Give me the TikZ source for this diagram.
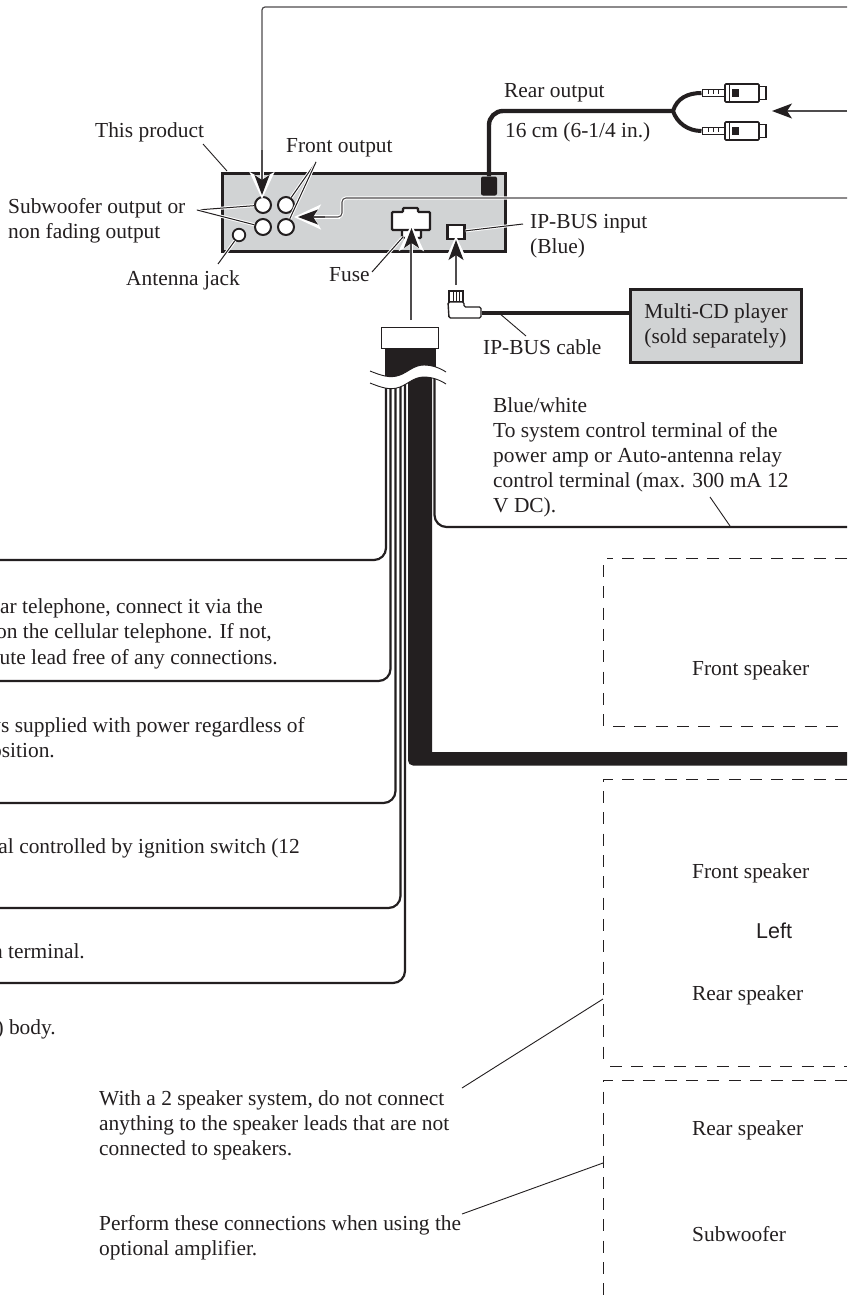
\documentclass[tikz,border=0pt]{standalone}
\usepackage{fontspec}
\usepackage{tikz}
\usetikzlibrary{arrows.meta}
\setmainfont{Liberation Serif}
\newfontfamily\leftfont{Liberation Sans}
\definecolor{ink}{HTML}{231F20}
\definecolor{panel}{HTML}{D1D3D4}
\newcommand{\wavecurve}[1]{(370,{371+#1}) .. controls (380,{375+#1}) and (390,{379+#1}) .. (400,{375+#1}) .. controls (408,{372+#1}) and (414,{365+#1}) .. (424,{365+#1}) .. controls (432,{365+#1}) and (440,{368+#1}) .. (446,{372+#1})}

\begin{document}
\begin{tikzpicture}[x=1pt,y=-1pt,
            txtleft/.style={inner sep=0pt,anchor=base west,align=left,text=ink,font=\fontsize{21.4}{25}\selectfont},
            txtright/.style={inner sep=0pt,anchor=base east,text=ink,font=\fontsize{21.4}{25}\selectfont}]
            \tikzset{jack/.style = {shape=circle,draw=ink,fill=white,line width=2pt,inner sep=0pt,minimum size=16pt}}
            \tikzset{socket/.style = {draw=ink,fill=white,line width=2.2pt}}
            \tikzset{wire/.style = {draw=ink,line width=2.2pt,rounded corners=12pt}}
            \tikzset{shaft/.style = {draw=ink!80,line width=1.2pt}}
            \tikzset{pointer/.style = {shaft,-{Stealth[length=20pt,width=15pt,inset=5pt,color=ink]}}}
            \tikzset{halo/.style = {draw=white,line width=3.2pt,shorten >=-4pt,-{Stealth[length=27pt,width=25pt,inset=7pt]}}}
            \tikzset{leader/.style = {draw=ink,line width=1pt,preaction={draw=white,line width=3pt}}}
            \tikzset{thinlead/.style = {draw=ink,line width=.9pt}}
            \tikzset{dashbox/.style = {draw=ink,line width=.9pt,dash pattern=on 12pt off 9.3pt}}
            \tikzset{rcabody/.style = {draw=ink,fill=white,line width=1.6pt,rounded corners=1pt,minimum width=34pt,minimum height=18pt,inner sep=0pt}}
            \tikzset{rcatip/.style = {draw=ink,fill=white,line width=1.3pt,minimum width=8pt,minimum height=13pt,inner sep=0pt}}
            \tikzset{rcatail/.style = {draw=ink,fill=white,line width=1pt,minimum width=22pt,minimum height=7pt,inner sep=0pt}}

            \useasboundingbox (0,0) rectangle (847,1303);
            \clip (0,0) rectangle (847,1303);
            \fill[white] (0,0) rectangle (847,1303);

            \node[draw=ink,fill=panel,line width=3pt,minimum width=283pt,minimum height=78pt,inner sep=0pt] (product) at (364,212.5) {};
            \node[fill=ink,rounded corners=2pt,minimum width=16pt,minimum height=19pt,inner sep=0pt] (rearjack) at (489,186) {};
            \node[jack] (subA) at (263,205) {};
            \node[jack] (subB) at (263,227) {};
            \node[jack] (frontA) at (286,205) {};
            \node[jack] (frontB) at (286,227) {};
            \node[jack,minimum size=12.5pt,line width=1.8pt] (antenna) at (239,235) {};
            \node[socket,minimum width=17pt,minimum height=14pt,inner sep=0pt] (ipbus) at (456,232) {};
            \draw[socket,rounded corners=1pt] (402,229) -- (402,238) -- (421,238) -- (421,229);
            \draw[socket,rounded corners=1pt] (403,212) -- (403,208) -- (418,208) -- (418,212) -- (430,212) -- (430,230) -- (392,230) -- (392,212) -- cycle;
            \coordinate (fuseport) at (411.5,228);
            \coordinate (ipbusport) at (456,240);

            \node[draw=ink,fill=panel,line width=3pt,minimum width=171pt,minimum height=73pt,inner sep=0pt,txtleft,anchor=center] (changer) at (716,326) {Multi-CD player\\(sold separately)};

            \coordinate (topturn) at (262,7);
            \coordinate (topend) at (847,7);
            \coordinate (subport) at (262,195);
            \draw[halo] (262,100) -- (subport);
            \draw[shaft,rounded corners=3pt] (topend) -- (topturn) -- (262,175);
            \draw[pointer] (262,150) -- (subport);

            \coordinate (frontport) at (298,217);
            \coordinate (frontend) at (847,198);
            \draw[draw=white,line width=3.2pt,rounded corners=4pt] (frontend) -| (342,217) -- (330,217);
            \draw[halo] (340,217) -- (frontport);
            \draw[shaft,line width=1.1pt,rounded corners=4pt] (frontend) -| (342,217) -- (320,217);
            \draw[pointer] (325,217) -- (frontport);

            \coordinate (rearturn) at (488,111);
            \coordinate (rearfork) at (673,111);
            \coordinate (rearend) at (847,111);
            \coordinate (rearport) at (772,111);
            \draw[draw=ink,line width=4.4pt,rounded corners=14pt] (rearjack) |- (rearfork);
            \draw[pointer] (rearend) -- (rearport);

            \foreach \y/\n in {93/A,131/B} {
                \node[rcatail] (tail\n) at (713,\y) {};
                \foreach \x in {708,713,718} {\draw[draw=ink,line width=.7pt] (\x,\y-3.5) -- (\x,\y+1);}
                \node[rcatip] (tip\n) at (762,\y) {};
                \node[rcabody] (body\n) at (742,\y) {};
                \fill[ink] (732,\y-4) rectangle (739,\y+4);
                \draw[draw=ink,line width=.7pt] (729,\y-9) -- (729,\y+9);
            }
            \draw[draw=ink,line width=4pt] (rearfork) .. controls (677,98) and (688,93) .. (tailA.west);
            \draw[draw=ink,line width=4pt] (rearfork) .. controls (677,123) and (688,131) .. (tailB.west);

            \coordinate (harnesstop) at (411,320);
            \node[draw=ink,fill=white,line width=1.3pt,minimum width=57pt,minimum height=21pt,inner sep=0pt] (harness) at (410,338) {};
            \draw[halo] (411,300) -- (fuseport);
            \draw[shaft] (harnesstop) -- (411,240);
            \draw[pointer] (411.5,255) -- (fuseport);

            \draw[socket,line width=1.4pt] (449,302) rectangle (463,291);
            \foreach \x in {453,456,459} {\draw[draw=ink,line width=1pt] (\x,291) -- (\x,302);}
            \node[inner sep=0pt,minimum size=1pt] (plug) at (481,313) {};
            \draw[socket,line width=1.4pt,rounded corners=1.5pt] (448,302) -- (464,302) -- (464,307) -- (481,307) -- (481,318) -- (449,318) -- cycle;
            \draw[draw=ink,line width=3.6pt] (plug) -- (plug -| changer.west);
            \coordinate (plugtop) at (456,285);
            \draw[halo] (plugtop) -- (ipbusport);
            \draw[pointer] (plugtop) -- (ipbusport);

            \begin{scope}
                \clip \wavecurve{12} -- (900,384) -- (900,1400) -- (-50,1400) -- (-50,383) -- cycle;
                \coordinate (wireA) at (386,375);
                \coordinate (wireB) at (390.5,375);
                \coordinate (wireC) at (395.5,375);
                \coordinate (wireD) at (400.5,375);
                \coordinate (wireE) at (405,375);
                \coordinate (wireF) at (434.5,375);
                \coordinate (endA) at (-10,560);
                \coordinate (endB) at (-10,681);
                \coordinate (endC) at (-10,803);
                \coordinate (endD) at (-10,908);
                \coordinate (endE) at (-10,983);
                \coordinate (endF) at (860,527);
                \draw[wire] (wireA) |- (endA);
                \draw[wire] (wireB) |- (endB);
                \draw[wire] (wireC) |- (endC);
                \draw[wire] (wireD) |- (endD);
                \draw[wire] (wireE) |- (endE);
                \draw[wire] (wireF) |- (endF);
                \fill[ink] (408,375) [rounded corners=5pt] -- (408,765.5) [sharp corners] -- (860,765.5) -- (860,752) -- (432,752) -- (432,375) -- cycle;
            \end{scope}
            \begin{scope}
                \clip \wavecurve{0} -- (446,300) -- (370,300) -- cycle;
                \fill[ink] (385,349) rectangle (436,385);
            \end{scope}
            \draw[thinlead] \wavecurve{0};
            \draw[thinlead] \wavecurve{12};

            \coordinate (tipproduct) at (203,144);
            \coordinate (edgeproduct) at (227,171);
            \coordinate (tipsub) at (197,210);
            \coordinate (tipfront) at (316,162);
            \coordinate (tipantenna) at (218,264);
            \coordinate (tipfuse) at (372,272);
            \coordinate (edgefuse) at (403,237);
            \coordinate (tipipbus) at (523,224);
            \coordinate (tipcable) at (526,336);
            \coordinate (edgecable) at (499,313);
            \coordinate (tipblue) at (710,497);
            \coordinate (edgeblue) at (730,526);
            \coordinate (tiptwo) at (462,1088);
            \coordinate (edgetwo) at (603,999);
            \coordinate (tipamp) at (462,1214);
            \coordinate (edgeamp) at (603,1163);
            \draw[thinlead] (tipproduct) -- (edgeproduct);
            \draw[leader] (tipsub) -- (subA);
            \draw[leader] (tipsub) -- (subB);
            \draw[leader] (tipfront) -- (frontA);
            \draw[leader] (tipfront) -- (frontB);
            \draw[leader] (tipantenna) -- (antenna);
            \draw[leader] (tipfuse) -- (edgefuse);
            \draw[leader] (tipipbus) -- (ipbus);
            \draw[thinlead] (tipcable) -- (edgecable);
            \draw[thinlead] (tipblue) -- (edgeblue);
            \draw[thinlead] (tiptwo) -- (edgetwo);
            \draw[thinlead] (tipamp) -- (edgeamp);

            \draw[dashbox] (847,558) -- (607,558);
            \draw[dashbox] (603,565) -- (603,726);
            \draw[dashbox] (613,726) -- (847,726);
            \draw[dashbox] (847,779.5) -- (603,779.5) -- (603,1061);
            \draw[dashbox] (610,1066) -- (847,1066);
            \draw[dashbox] (847,1080) -- (603,1080) -- (603,1303);

            \node[txtleft] (thisproduct) at (95,137) {This product};
            \node[txtleft] (frontoutput) at (286,152) {Front output};
            \node[txtleft] (suboutput) at (8,238) {Subwoofer output or\\non fading output};
            \node[txtleft] (antennajack) at (126,285) {Antenna jack};
            \node[txtleft] (fuse) at (329,281) {Fuse};
            \node[txtleft] (rearoutput) at (504,98) {Rear output};
            \node[txtleft] (rearlength) at (505,138) {16 cm (6-1/4 in.)};
            \node[txtleft] (ipbusinput) at (530,253) {IP-BUS input\\(Blue)};
            \node[txtleft] (ipbuscable) at (483,354) {IP-BUS cable};
            \node[txtleft] (bluewhite) at (493,512) {Blue/white\\To system control terminal of the\\power amp or Auto-antenna relay\\control terminal (max. 300 mA 12\\V DC).};
            \node[txtright] (phoneA) at (263,613) {lar telephone, connect it via the};
            \node[txtright] (phoneB) at (272,638) {on the cellular telephone. If not,};
            \node[txtright] (phoneC) at (278,664) {Mute lead free of any connections.};
            \node[txtright] (batteryA) at (305,732) {ys supplied with power regardless of};
            \node[txtright] (batteryB) at (55,757) {position.};
            \node[txtright] (ignition) at (300,853) {al controlled by ignition switch (12};
            \node[txtright] (terminal) at (85,958) {n terminal.};
            \node[txtright] (body) at (56,1034) {) body.};
            \node[txtleft] (twospeaker) at (99,1155) {With a 2 speaker system, do not connect\\anything to the speaker leads that are not\\connected to speakers.};
            \node[txtleft] (optional) at (99,1255) {Perform these connections when using the\\optional amplifier.};
            \node[txtleft] (frontspA) at (692,675) {Front speaker};
            \node[txtleft] (frontspB) at (692,878) {Front speaker};
            \node[txtleft,font=\leftfont\fontsize{21.5}{25}\selectfont] (leftside) at (756,938) {Left};
            \node[txtleft] (rearspA) at (692,1000) {Rear speaker};
            \node[txtleft] (rearspB) at (692,1135) {Rear speaker};
            \node[txtleft] (woofer) at (692,1241) {Subwoofer};
\end{tikzpicture}
\end{document}
